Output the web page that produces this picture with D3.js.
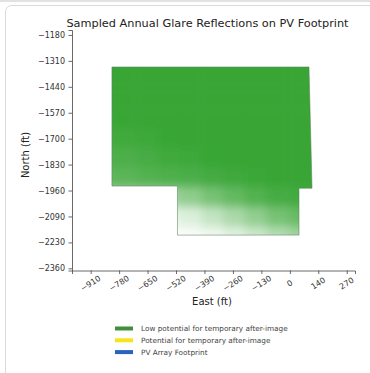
<!DOCTYPE html>
<html>
<head>
<meta charset="utf-8">
<script src="https://cdn.jsdelivr.net/npm/d3@7"></script>
<style>
  body { margin: 0; background: #fff; }
  svg { display: block; font-family: "DejaVu Sans", sans-serif; }
</style>
</head>
<body>
<script>
// Tick labels as printed on the chart
const xTickLabels = ['-910', '-780', '-650', '-520', '-390', '-260', '-130', '0', '140', '270'];
const yTickLabels = ['-1180', '-1310', '-1440', '-1570', '-1700', '-1830', '-1960', '-2090', '-2230', '-2360'];

// PV footprint outline (east ft, north ft)
const footprintEast  = [-812, 96, 110, 50, 50, -510, -510, -812];
const footprintNorth = [-1342, -1342, -1955, -1955, -2192, -2192, -1944, -1944];

// Sampled glare density (cell centres, 100 ft cells)
const glareEast  = [-850, -750, -650, -550, -450, -350, -250, -150, -50, 50, 150];
const glareNorth = [-1300, -1400, -1500, -1600, -1700, -1800, -1900, -2000, -2100, -2200];
const glareValues = [
  [1, 1, 1, 1, 1, 1, 1, 1, 1, 1, 1],
  [1, 1, 1, 1, 1, 1, 1, 1, 1, 1, 1],
  [1, 1, 1, 1, 1, 1, 1, 1, 1, 1, 1],
  [0.98, 0.99, 1, 1, 1, 1, 1, 1, 1, 1, 1],
  [0.94, 0.95, 0.97, 0.99, 1, 1, 1, 1, 1, 1, 1],
  [0.88, 0.89, 0.92, 0.95, 0.97, 0.99, 1, 1, 1, 1, 1],
  [0.8, 0.82, 0.86, 0.88, 0.9, 0.93, 0.96, 0.98, 1, 1, 1],
  [0.5, 0.5, 0.5, 0.5, 0.56, 0.68, 0.78, 0.86, 0.92, 0.94, 0.94],
  [0.12, 0.12, 0.12, 0.12, 0.18, 0.3, 0.42, 0.55, 0.68, 0.76, 0.76],
  [0, 0, 0, 0, 0.03, 0.08, 0.16, 0.26, 0.38, 0.48, 0.48]
];

// Legend entries
const legendLabels = ['Low potential for temporary after-image', 'Potential for temporary after-image', 'PV Array Footprint'];
const legendColors = ['#3f8f3c', '#f7e51c', '#2a62c2'];

const width = 370, height = 373;
const svg = d3.select('body').append('svg')
  .attr('width', width)
  .attr('height', height);

// Card frame around the figure
svg.append('rect').attr('x', 0).attr('y', 0).attr('width', width).attr('height', 2).attr('fill', '#e2e2e2');
svg.append('rect')
  .attr('x', 5.5).attr('y', 5.5).attr('width', 400).attr('height', 400).attr('rx', 6)
  .attr('fill', '#fff').attr('stroke', '#dadada');

// Scales (ticks are evenly spaced, labels are rounded)
const x = d3.scaleLinear().domain([-996, 308]).range([72, 355]);
const y = d3.scaleLinear().domain([-1155, -2371]).range([30, 270.5]);
const xTickVals = xTickLabels.map((d, i) => -910 + i * 1180 / 9);
const yTickVals = yTickLabels.map((d, i) => -1180 - i * 1180 / 9);

// Title
svg.append('text')
  .attr('x', 207.5).attr('y', 26.5)
  .attr('text-anchor', 'middle')
  .style('font-size', '11.3px').style('fill', '#222')
  .text('Sampled Annual Glare Reflections on PV Footprint');

// Glare layer: blurred cells clipped to the footprint
const defs = svg.append('defs');
const polyPoints = footprintEast.map((e, i) => [x(e), y(footprintNorth[i])]);
defs.append('clipPath').attr('id', 'fp-clip')
  .append('polygon').attr('points', polyPoints.map(p => p.join(',')).join(' '));
defs.append('filter').attr('id', 'soft')
  .attr('x', '-20%').attr('y', '-20%').attr('width', '140%').attr('height', '140%')
  .append('feGaussianBlur').attr('stdDeviation', 5);

const cells = [];
glareNorth.forEach((n, r) => {
  glareEast.forEach((e, c) => cells.push({ e, n, v: glareValues[r][c] }));
});

svg.append('g')
  .attr('clip-path', 'url(#fp-clip)')
  .attr('filter', 'url(#soft)')
  .selectAll('rect')
  .data(cells)
  .enter().append('rect')
  .attr('x', d => x(d.e - 50))
  .attr('y', d => y(d.n + 50))
  .attr('width', d => x(d.e + 50) - x(d.e - 50) + 0.5)
  .attr('height', d => y(d.n - 50) - y(d.n + 50) + 0.5)
  .attr('fill', d => d3.interpolateRgb('#ffffff', '#37a534')(d.v));

// Footprint outline
svg.append('polygon')
  .attr('points', polyPoints.map(p => p.join(',')).join(' '))
  .attr('fill', 'none')
  .attr('stroke', '#5f7f5f')
  .attr('stroke-opacity', 0.55)
  .attr('stroke-width', 1);

// Axes
const xAxis = svg.append('g')
  .attr('transform', 'translate(0,270.5)')
  .call(d3.axisBottom(x).tickValues(xTickVals).tickSize(3.5).tickFormat((d, i) => ''));
const yAxis = svg.append('g')
  .attr('transform', 'translate(72,0)')
  .call(d3.axisLeft(y).tickValues(yTickVals).tickSize(3.5).tickPadding(3.5).tickFormat((d, i) => yTickLabels[i].replace('-', '\u2212')));

[xAxis, yAxis].forEach(a => {
  a.select('.domain').attr('stroke', '#444').attr('stroke-width', 0.8);
  a.selectAll('.tick line').attr('stroke', '#444').attr('stroke-width', 0.8);
  a.selectAll('text').style('font-size', '8px').style('fill', '#333').style('font-family', '"DejaVu Sans", sans-serif');
});

// Rotated x tick labels
svg.append('g').selectAll('text')
  .data(xTickVals)
  .enter().append('text')
  .attr('transform', d => `translate(${x(d)},283.5) rotate(-32)`)
  .attr('text-anchor', 'middle')
  .attr('dominant-baseline', 'central')
  .style('font-size', '8px').style('fill', '#333')
  .text((d, i) => xTickLabels[i].replace('-', '\u2212'));

// Axis titles
svg.append('text')
  .attr('transform', 'translate(28.5,155) rotate(-90)')
  .attr('text-anchor', 'middle')
  .style('font-size', '10px').style('fill', '#222')
  .text('North (ft)');
svg.append('text')
  .attr('x', 212).attr('y', 305)
  .attr('text-anchor', 'middle')
  .style('font-size', '10px').style('fill', '#222')
  .text('East (ft)');

// Legend
const legend = svg.append('g').attr('transform', 'translate(115,328.5)');
legendLabels.forEach((label, i) => {
  const row = legend.append('g').attr('transform', `translate(0,${i * 11.8})`);
  row.append('rect')
    .attr('x', 0).attr('y', -2).attr('width', 18).attr('height', 4)
    .attr('fill', legendColors[i]);
  row.append('text')
    .attr('x', 26).attr('y', 0)
    .attr('dominant-baseline', 'central')
    .style('font-size', '7.3px').style('fill', '#444')
    .text(label);
});
</script>
</body>
</html>
